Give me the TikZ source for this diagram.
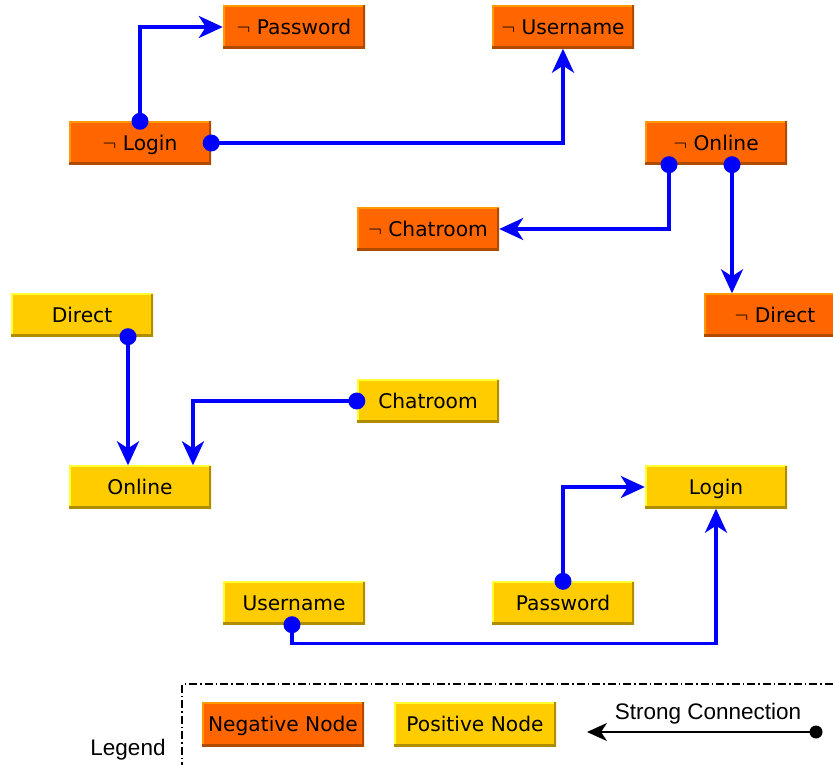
\documentclass[tikz,border=0pt]{standalone}
\usepackage{fontspec}
\setmainfont{DejaVu Sans}
\newfontfamily\arialfont{Liberation Sans}
\usetikzlibrary{arrows.meta}
\definecolor{negfill}{HTML}{FF6600}
\definecolor{neglight}{HTML}{FF9900}
\definecolor{negdark}{HTML}{B04A00}
\definecolor{posfill}{HTML}{FFCC00}
\definecolor{poslight}{HTML}{FFFF33}
\definecolor{posdark}{HTML}{B08C00}
\definecolor{conblue}{HTML}{0000FF}

\begin{document}
\begin{tikzpicture}[x=1pt,y=-1pt,
	box/.style={rectangle, inner sep=0pt, minimum width=142pt, minimum height=43pt,
		text height=14.5pt, text depth=0pt, font=\fontsize{20.2}{24}\selectfont},
	negative/.style={box, fill=negfill, path picture={
		\draw[line width=3pt, neglight] (path picture bounding box.south west) -- (path picture bounding box.north west) -- (path picture bounding box.north east);
		\draw[line width=5pt, negdark] (path picture bounding box.south west) -- (path picture bounding box.south east) -- (path picture bounding box.north east);}},
	positive/.style={box, fill=posfill, path picture={
		\draw[line width=3pt, poslight] (path picture bounding box.south west) -- (path picture bounding box.north west) -- (path picture bounding box.north east);
		\draw[line width=5pt, posdark] (path picture bounding box.south west) -- (path picture bounding box.south east) -- (path picture bounding box.north east);}},
	strong/.style={conblue, line width=3.5pt, -{Stealth[length=24pt,width=22pt,inset=7pt]}},
	dot/.style={conblue}]
	\useasboundingbox (0,0) rectangle (833,765);

	% Negative nodes
	\node[negative] (nPassword) at (294,27) {$\neg$ Password};
	\node[negative] (nUsername) at (563,27) {$\neg$ Username};
	\node[negative] (nLogin) at (140,143) {$\neg$ Login};
	\node[negative] (nOnline) at (716,143) {$\neg$ Online};
	\node[negative] (nChatroom) at (428,229) {$\neg$ Chatroom};
	\node[negative] (nDirect) at (775,315) {$\neg$ Direct};

	% Positive nodes
	\node[positive] (pDirect) at (82,315) {Direct};
	\node[positive] (pChatroom) at (428,401) {Chatroom};
	\node[positive] (pOnline) at (140,487) {Online};
	\node[positive] (pLogin) at (716,487) {Login};
	\node[positive] (pUsername) at (294,603) {Username};
	\node[positive] (pPassword) at (563,603) {Password};

	% Connections
	\coordinate (o1) at ([xshift=-47pt]nOnline.south);
	\coordinate (o2) at ([xshift=16pt]nOnline.south);
	\coordinate (d1) at ([xshift=46pt]pDirect.south);
	\coordinate (u1) at ([xshift=-2pt]pUsername.south);
	\draw[strong] (nLogin.north) |- (nPassword.west);
	\draw[strong] (nLogin.east) -| (nUsername.south);
	\draw[strong] (o1) |- (nChatroom.east);
	\draw[strong] (o2) -- (o2 |- nDirect.north);
	\draw[strong] (d1) -- (d1 |- pOnline.north);
	\draw[strong] (pChatroom.west) -| ([xshift=53pt]pOnline.north);
	\draw[strong] (pPassword.north) |- (pLogin.west);
	\draw[strong] (u1) -- ++(0,19) -| (pLogin.south);
	\fill[dot] (nLogin.north) circle (8.5pt);
	\fill[dot] (nLogin.east) circle (8.5pt);
	\fill[dot] (o1) circle (8.5pt);
	\fill[dot] (o2) circle (8.5pt);
	\fill[dot] (d1) circle (8.5pt);
	\fill[dot] (pChatroom.west) circle (8.5pt);
	\fill[dot] (pPassword.north) circle (8.5pt);
	\fill[dot] (u1) circle (8.5pt);

	% Legend
	\draw[line width=1.5pt, dash pattern=on 8pt off 3pt on 1.5pt off 3pt] (182,770) -- (182,684) -- (840,684);
	\node[negative, minimum width=162pt, minimum height=44pt] (legNeg) at (283,724) {Negative Node};
	\node[positive, minimum width=162pt, minimum height=44pt] (legPos) at (475,724) {Positive Node};
	\node[font=\arialfont\fontsize{22.5}{26}\selectfont] (legTitle) at (128,750) {Legend};
	\node[font=\arialfont\fontsize{22.5}{26}\selectfont] (legStrong) at (708,714) {Strong Connection};
	\coordinate (legFrom) at (816,732);
	\coordinate (legTo) at (587,732);
	\draw[line width=2pt, -{Stealth[length=20pt,width=18pt,inset=6pt]}] (legFrom) -- (legTo);
	\fill (legFrom) circle (6.5pt);
\end{tikzpicture}
\end{document}
